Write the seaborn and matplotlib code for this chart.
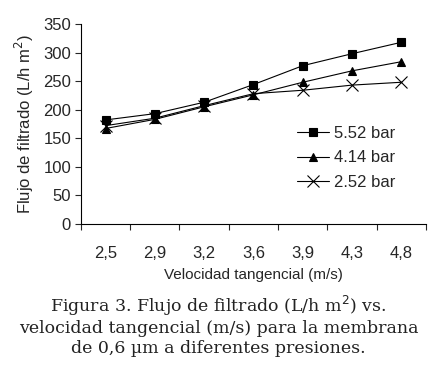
import seaborn as sns
import pandas as pd
import matplotlib.pyplot as plt

# velocidad tangencial (m/s) categories
velocidades = ["2,5", "2,9", "3,2", "3,6", "3,9", "4,3", "4,8"]
flujo_552 = [182, 193, 213, 244, 277, 298, 318]
flujo_414 = [167, 183, 205, 226, 248, 268, 284]
flujo_252 = [172, 185, 207, 228, 234, 243, 248]
series_names = ["5.52 bar", "4.14 bar", "2.52 bar"]
markers = ["s", "^", "x"]

sns.set_theme(style="ticks")
plt.rcParams['font.family'] = ['Liberation Sans', 'DejaVu Sans']

fig = plt.figure(figsize=(4.37, 3.75), dpi=100)
ax = fig.add_axes([0.185, 0.403, 0.79, 0.533])

for name, vals, m in zip(series_names, [flujo_552, flujo_414, flujo_252], markers):
    df = pd.DataFrame({"pos": range(len(vals)), "flujo": vals})
    size = 8 if m == "x" else 5.5
    sns.lineplot(data=df, x="pos", y="flujo", color="black", marker=m,
                 markersize=size, markeredgewidth=0.8, markeredgecolor="black",
                 linewidth=0.8, label=name, ax=ax)

ax.set_xlim(-0.5, 6.5)
ax.set_ylim(0, 350)
ax.set_yticks(range(0, 351, 50))
ax.set_xticks([i - 0.5 for i in range(8)])
ax.set_xticklabels([])
ax.set_xticks(range(7), minor=True)
ax.set_xticklabels(velocidades, minor=True, fontsize=12)
ax.tick_params(axis="x", which="minor", length=0, pad=16)
ax.tick_params(axis="x", which="major", length=4, width=0.8, direction="out")
ax.tick_params(axis="y", labelsize=12, length=4, width=0.8, pad=3)
for s in ["top", "right"]:
    ax.spines[s].set_visible(False)
for s in ["left", "bottom"]:
    ax.spines[s].set_linewidth(0.8)
    ax.spines[s].set_color("black")

ax.set_xlabel("Velocidad tangencial (m/s)", fontsize=11, labelpad=5)
ax.set_ylabel("Flujo de filtrado (L/h m$^2$)", fontsize=12, labelpad=5)

ax.legend(loc="center right", bbox_to_anchor=(0.955, 0.33), frameon=False,
          fontsize=12, handlelength=1.9, handletextpad=0.3, labelspacing=0.55)

fig.text(0.5, 0.133, "Figura 3. Flujo de filtrado (L/h m$^2$) vs.\n"
         "velocidad tangencial (m/s) para la membrana\n"
         "de 0,6 \u00b5m a diferentes presiones.",
         ha="center", va="center", fontsize=12.5, family=["DejaVu Serif"],
         linespacing=1.2, color="#222222")

fig.savefig("out.png", dpi=100)
